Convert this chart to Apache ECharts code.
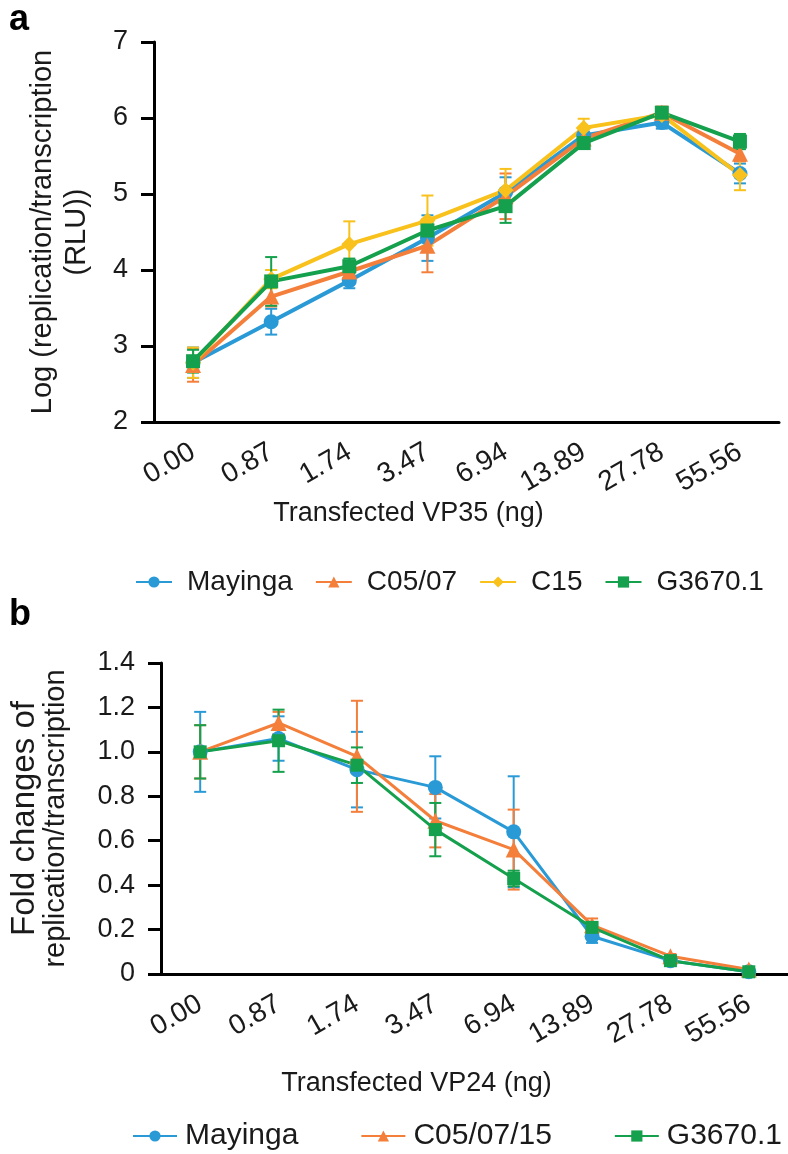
<!DOCTYPE html>
<html>
<head>
<meta charset="utf-8">
<script src="https://cdn.jsdelivr.net/npm/echarts@6/dist/echarts.min.js"></script>
<style>
html,body{margin:0;padding:0;background:#fff;}
#chart{width:788px;height:1154px;}
</style>
</head>
<body>
<div id="chart"></div>
<script>
// ---- data ----
const categories = ['0.00','0.87','1.74','3.47','6.94','13.89','27.78','55.56'];

// Panel a: Log (replication/transcription (RLU))
const mayingaA    = [2.78, 3.32, 3.86, 4.42, 5.02, 5.77, 5.94, 5.27];
const mayingaAErr = [0.20, 0.17, 0.10, 0.30, 0.20, 0.10, 0.08, 0.13];
const c0507A      = [2.75, 3.65, 3.98, 4.32, 4.97, 5.73, 6.07, 5.53];
const c0507AErr   = [0.22, 0.13, 0.10, 0.35, 0.30, 0.08, 0.08, 0.10];
const c15A        = [2.78, 3.88, 4.34, 4.65, 5.05, 5.87, 6.04, 5.25];
const c15AErr     = [0.20, 0.12, 0.30, 0.33, 0.28, 0.12, 0.08, 0.20];
const g3670A      = [2.80, 3.85, 4.05, 4.52, 4.84, 5.67, 6.07, 5.69];
const g3670AErr   = [0.15, 0.32, 0.10, 0.10, 0.22, 0.05, 0.05, 0.10];

// Panel b: Fold changes of replication/transcription
const mayingaB    = [1.00, 1.06, 0.92, 0.84, 0.64, 0.17, 0.06, 0.01];
const mayingaBErr = [0.18, 0.10, 0.17, 0.14, 0.25, 0.03, 0.01, 0.005];
const c050715B    = [1.00, 1.13, 0.98, 0.69, 0.56, 0.22, 0.08, 0.02];
const c050715BErr = [0.12, 0.05, 0.25, 0.12, 0.18, 0.03, 0.01, 0.005];
const g3670B      = [1.00, 1.05, 0.94, 0.65, 0.43, 0.21, 0.06, 0.01];
const g3670BErr   = [0.12, 0.14, 0.08, 0.12, 0.035, 0.02, 0.01, 0.005];

const yTicksA = ['2','3','4','5','6','7'];
const yTicksB = ['0','0.2','0.4','0.6','0.8','1.0','1.2','1.4'];

const namesA = ['Mayinga','C05/07','C15','G3670.1'];
const namesB = ['Mayinga','C05/07/15','G3670.1'];

// ---- styles ----
const BLUE = '#2a9ad6', ORANGE = '#f47f3b', YELLOW = '#f8c11c', GREEN = '#14a04c';
const FONT = "'Liberation Sans', Arial, Helvetica, sans-serif";
const TXT = '#1a1a1a';

function errRender(color, cap){
  return function(params, api){
    const x = api.value(0), y = api.value(1), e = api.value(2);
    const t = api.coord([x, y + e]), b = api.coord([x, y - e]);
    const st = {stroke: color, lineWidth: 2};
    return {type:'group', children:[
      {type:'line', shape:{x1:t[0], y1:t[1], x2:b[0], y2:b[1]}, style:st},
      {type:'line', shape:{x1:t[0]-cap, y1:t[1], x2:t[0]+cap, y2:t[1]}, style:st},
      {type:'line', shape:{x1:b[0]-cap, y1:b[1], x2:b[0]+cap, y2:b[1]}, style:st}
    ]};
  };
}
function errSeries(name, vals, errs, color, gi){
  return {
    name: name + ' err', type:'custom', xAxisIndex:gi, yAxisIndex:gi,
    renderItem: errRender(color, 6), z:1, silent:true,
    encode:{x:0, y:1},
    data: vals.map((v,i)=>[i, v, errs[i]])
  };
}
function lineSeries(name, vals, color, symbol, size, lw, gi){
  return {
    name, type:'line', xAxisIndex:gi, yAxisIndex:gi, data: vals,
    symbol, symbolSize:size, showSymbol:true, z:3,
    lineStyle:{color, width:lw}, itemStyle:{color}
  };
}

function xAxisCfg(gi, name, gap){
  return {
    type:'category', gridIndex:gi, data:categories, boundaryGap:true,
    name, nameLocation:'middle', nameGap: gap,
    nameTextStyle:{fontSize:27, color:TXT, fontFamily:FONT, padding:[0,116,0,0]},
    axisLine:{lineStyle:{color:'#000', width:3}},
    axisTick:{alignWithLabel:true, length:13, lineStyle:{color:'#000', width:3}},
    axisLabel:{rotate:30, fontSize:28, color:TXT, fontFamily:FONT, margin:28, interval:0},
    splitLine:{show:false}
  };
}

const option = {
  animation:false,
  backgroundColor:'#fff',
  title:[
    {text:'a', left:4, top:-3, textStyle:{fontSize:36, fontWeight:'bold', color:'#000', fontFamily:FONT}},
    {text:'b', left:4, top:592, textStyle:{fontSize:36, fontWeight:'bold', color:'#000', fontFamily:FONT}}
  ],
  grid:[
    {left:154, right:9, top:42, height:380},
    {left:154, right:0, top:663, height:311}
  ],
  xAxis:[ xAxisCfg(0,'Transfected VP35 (ng)', 74), xAxisCfg(1,'Transfected VP24 (ng)', 96) ],
  yAxis:[
    {type:'value', gridIndex:0, min:2, max:7, interval:1,
     name:'Log (replication/transcription\n(RLU))', nameLocation:'middle', nameGap:60, nameRotate:90,
     nameTextStyle:{fontSize:29, color:TXT, fontFamily:FONT, lineHeight:34},
     axisLine:{show:true, lineStyle:{color:'#000', width:3}},
     axisTick:{show:true, length:13, lineStyle:{color:'#000', width:3}},
     axisLabel:{fontSize:27, color:TXT, fontFamily:FONT, margin:26,
       formatter:(v)=>yTicksA[Math.round(v-2)]},
     splitLine:{show:false}},
    {type:'value', gridIndex:1, min:0, max:1.4, interval:0.2,
     name:'{a|Fold changes of}\n{b|replication/transcription}', nameLocation:'middle', nameGap:90, nameRotate:90,
     nameTextStyle:{color:TXT, fontFamily:FONT,
       rich:{a:{fontSize:33, lineHeight:31, color:TXT, fontFamily:FONT},
             b:{fontSize:29, lineHeight:31, color:TXT, fontFamily:FONT}}},
     axisLine:{show:true, lineStyle:{color:'#000', width:3}},
     axisTick:{show:true, length:13, lineStyle:{color:'#000', width:3}},
     axisLabel:{fontSize:27, color:TXT, fontFamily:FONT, margin:26,
       formatter:(v)=>yTicksB[Math.round(v/0.2)]},
     splitLine:{show:false}}
  ],
  legend:[
    {data:namesA, left:130, top:563, width:650, itemWidth:36, itemHeight:14, itemGap:22,
     textStyle:{fontSize:28, color:TXT, fontFamily:FONT, padding:[0,0,0,10]}, selectedMode:false},
    {data:namesB, left:132, top:1121, width:654, padding:0, itemWidth:44, itemHeight:14, itemGap:62,
     textStyle:{fontSize:30, color:TXT, fontFamily:FONT, padding:[0,0,0,3]}, selectedMode:false}
  ],
  series:[
    errSeries('Mayinga', mayingaA, mayingaAErr, BLUE, 0),
    errSeries('C05/07', c0507A, c0507AErr, ORANGE, 0),
    errSeries('C15', c15A, c15AErr, YELLOW, 0),
    errSeries('G3670.1', g3670A, g3670AErr, GREEN, 0),
    lineSeries('Mayinga', mayingaA, BLUE, 'circle', 15, 4, 0),
    lineSeries('C05/07', c0507A, ORANGE, 'triangle', 16, 4, 0),
    lineSeries('C15', c15A, YELLOW, 'diamond', 16, 4, 0),
    lineSeries('G3670.1', g3670A, GREEN, 'rect', 14, 4, 0),

    errSeries('Mayinga b', mayingaB, mayingaBErr, BLUE, 1),
    errSeries('C05/07/15 b', c050715B, c050715BErr, ORANGE, 1),
    errSeries('G3670.1 b', g3670B, g3670BErr, GREEN, 1),
    lineSeries('Mayinga', mayingaB, BLUE, 'circle', 15, 3, 1),
    lineSeries('C05/07/15', c050715B, ORANGE, 'triangle', 16, 3, 1),
    lineSeries('G3670.1', g3670B, GREEN, 'rect', 13, 3, 1)
  ]
};
const chart = echarts.init(document.getElementById('chart'), null, {renderer:'canvas'});
chart.setOption(option);
</script>
</body>
</html>
